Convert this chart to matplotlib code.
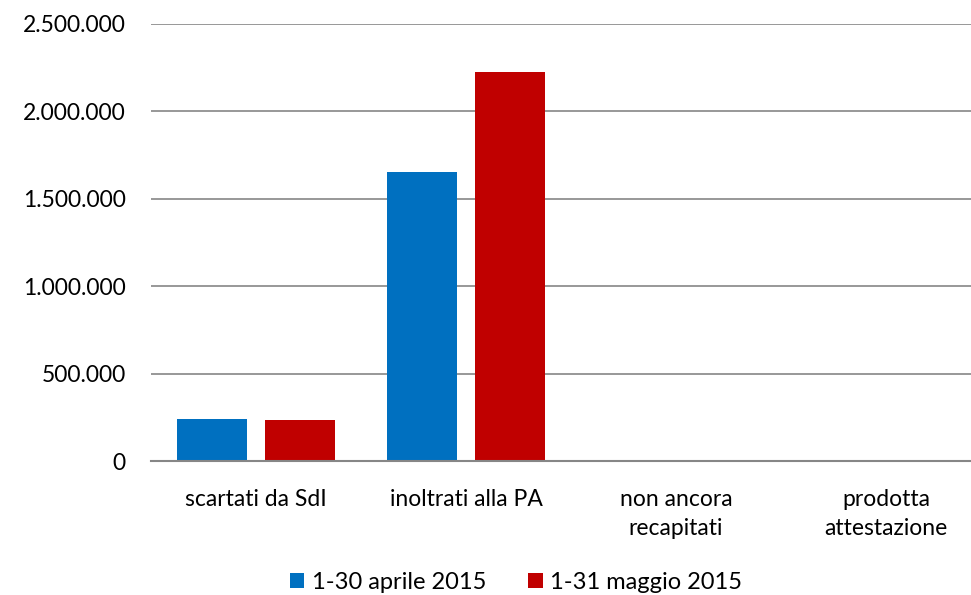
import matplotlib
matplotlib.use("Agg")
import matplotlib.pyplot as plt
import numpy as np
from matplotlib.ticker import FuncFormatter

categories = ["scartati da SdI", "inoltrati alla PA", "non ancora\nrecapitati", "prodotta\nattestazione"]
series_names = ["1-30 aprile 2015", "1-31 maggio 2015"]
aprile = [240000, 1653000, 1500, 8000]
maggio = [235000, 2225000, 1500, 3000]
colors = ["#0070C0", "#C00000"]

plt.rcParams['font.family'] = ['Lato', 'DejaVu Sans']

fig = plt.figure(figsize=(9.71, 5.95), dpi=100)
ax = fig.add_axes([0.1555, 0.2252, 0.865, 0.7345])

x = np.arange(len(categories))
w = 0.333
off = 0.2085
ax.bar(x - off, aprile, w, color=colors[0], label=series_names[0], zorder=3)
ax.bar(x + off, maggio, w, color=colors[1], label=series_names[1], zorder=3)

ax.set_xlim(-0.5, len(categories) - 0.5)
ax.set_ylim(0, 2500000)
ax.set_yticks(np.arange(0, 2500001, 500000))
ax.yaxis.set_major_formatter(FuncFormatter(lambda v, p: f"{int(v):,}".replace(",", ".")))
ax.grid(axis='y', color='#868686', linewidth=1.2, zorder=0)
for s in ['top', 'right', 'left']:
    ax.spines[s].set_visible(False)
ax.spines['bottom'].set_color('#868686')
ax.spines['bottom'].set_linewidth(1.5)
ax.spines['bottom'].set_zorder(4)
ax.set_xticks(x)
ax.set_xticklabels(categories, linespacing=1.5)
ax.tick_params(axis='both', length=0, labelsize=16.5, colors='black')
ax.tick_params(axis='y', pad=18)
ax.tick_params(axis='x', pad=20)

leg_x = (516 - 151) / (0.865 * 971)
ax.legend(loc='center', bbox_to_anchor=(leg_x, -0.277), ncol=2, frameon=False,
          fontsize=17, handlelength=0.6, handleheight=0.6, handletextpad=0.3, columnspacing=1.8)

fig.savefig("out.png", dpi=100)
